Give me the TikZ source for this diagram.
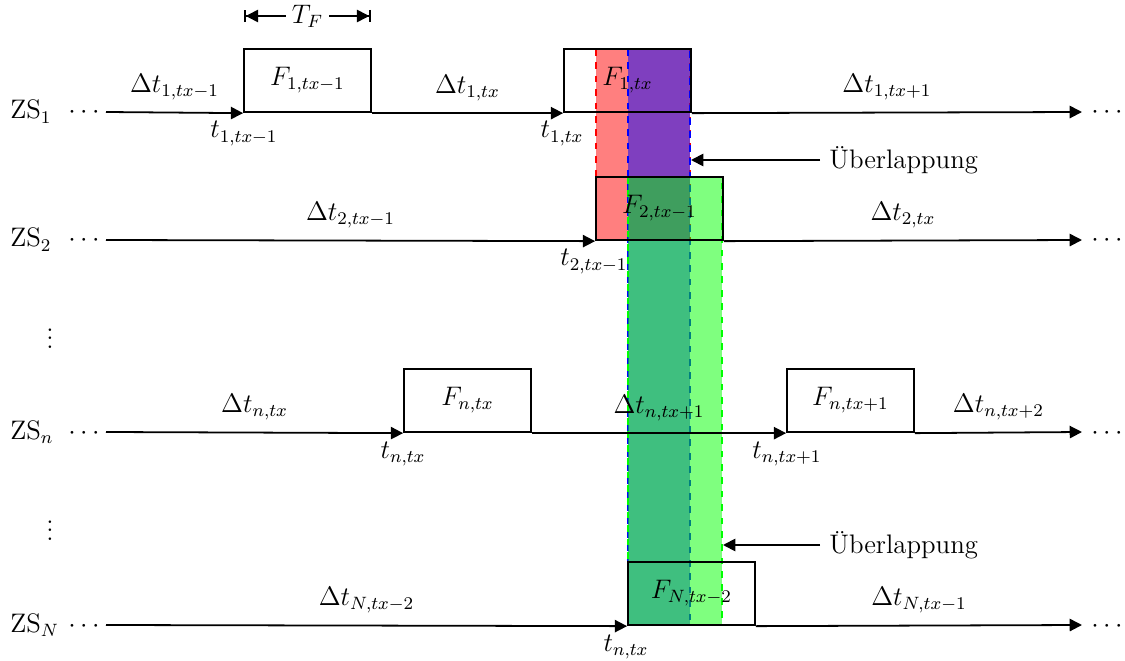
\documentclass[tikz,border=0pt,12pt]{standalone}
\usetikzlibrary{arrows.meta}
\begin{document}
\begin{tikzpicture}[x=0.015748cm, y=-0.015748cm,
  flow/.style={thick, -{Triangle[length=5.5pt,width=5.5pt]}},
  dimline/.style={thick, {Bar[width=5.5pt]Triangle[length=5.5pt,width=5.5pt]}-{Triangle[length=5.5pt,width=5.5pt]Bar[width=5.5pt]}},
  fbox/.style={draw, thick, minimum width=2cm, minimum height=1cm, inner sep=0pt},
  dlab/.style={midway, anchor=base, yshift=0.31cm},
  tlab/.style={anchor=base},
  rowlab/.style={anchor=base west},
  dots/.style={anchor=base},
  zone/.style={dashed, thick, fill opacity=0.5},
]
\useasboundingbox (0,0) rectangle (1125,661);

% overlap zones
\draw[zone, draw=red, fill=red] (596,49) rectangle (690,240);
\draw[zone, draw=blue, fill=blue] (628,49) rectangle (690,625);
\draw[zone, draw=green, fill=green] (628,177) rectangle (722,625);

% T_F dimension
\coordinate (tfa) at (244,16);
\coordinate (tfb) at (371,16);
\draw[dimline] (tfa) -- (tfb) node[midway, fill=white, inner xsep=2.5pt] (tf) {$T_F$};

% row labels
\node[rowlab] (zs1) at (1,119) {$\mathrm{ZS}_1$};
\node[rowlab] (zs2) at (1,247) {$\mathrm{ZS}_2$};
\node[rowlab] (zsn) at (1,439) {$\mathrm{ZS}_n$};
\node[rowlab] (zsN) at (1,632) {$\mathrm{ZS}_N$};
\node[dots] (l1) at (84,119) {$\cdots$};
\node[dots] (l2) at (84,247) {$\cdots$};
\node[dots] (ln) at (84,439) {$\cdots$};
\node[dots] (lN) at (84,632) {$\cdots$};
\node[dots] (r1) at (1107,119) {$\cdots$};
\node[dots] (r2) at (1107,247) {$\cdots$};
\node[dots] (rn) at (1107,439) {$\cdots$};
\node[dots] (rN) at (1107,632) {$\cdots$};
\node (vd1) at (50,332) {$\vdots$};
\node (vd2) at (50,524) {$\vdots$};

% start / end coordinates
\coordinate (s1) at (106,112); \coordinate (e1) at (1082,112);
\coordinate (s2) at (106,240); \coordinate (e2) at (1082,240);
\coordinate (sn) at (106,432); \coordinate (en) at (1082,432);
\coordinate (sN) at (106,625); \coordinate (eN) at (1082,625);

% frames
\node[fbox] (F1a) at (307.5,80.5) {$F_{1,tx-1}$};
\node[fbox] (F1b) at (627.5,80.5) {$F_{1,tx}$};
\node[fbox] (F2) at (659.5,208.5) {$F_{2,tx-1}$};
\node[fbox] (Fn1) at (467.5,400.5) {$F_{n,tx}$};
\node[fbox] (Fn2) at (850.5,400.5) {$F_{n,tx+1}$};
\node[fbox] (FN) at (691.5,593.5) {$F_{N,tx-2}$};

% row 1
\draw[flow] (s1) -- (F1a.south west) node[dlab] {$\Delta t_{1,tx-1}$};
\draw[flow] (F1a.south east) -- (F1b.south west) node[dlab] {$\Delta t_{1,tx}$};
\draw[flow] (F1b.south east) -- (e1) node[dlab] {$\Delta t_{1,tx+1}$};
\node[tlab] (t1a) at (244,138) {$t_{1,tx-1}$};
\node[tlab] (t1b) at (562,138) {$t_{1,tx}$};

% row 2
\draw[flow] (s2) -- (F2.south west) node[dlab] {$\Delta t_{2,tx-1}$};
\draw[flow] (F2.south east) -- (e2) node[dlab] {$\Delta t_{2,tx}$};
\node[tlab] (t2a) at (594,266) {$t_{2,tx-1}$};

% row n
\draw[flow] (sn) -- (Fn1.south west) node[dlab] {$\Delta t_{n,tx}$};
\draw[flow] (Fn1.south east) -- (Fn2.south west) node[dlab] {$\Delta t_{n,tx+1}$};
\draw[flow] (Fn2.south east) -- (en) node[dlab] {$\Delta t_{n,tx+2}$};
\node[tlab] (tna) at (403,458) {$t_{n,tx}$};
\node[tlab] (tnb) at (787,458) {$t_{n,tx+1}$};

% row N
\draw[flow] (sN) -- (FN.south west) node[dlab] {$\Delta t_{N,tx-2}$};
\draw[flow] (FN.south east) -- (eN) node[dlab] {$\Delta t_{N,tx-1}$};
\node[tlab] (tNa) at (626,651) {$t_{n,tx}$};

% overlap annotations
\node[anchor=west] (ov1) at (820,160) {Überlappung};
\coordinate (ov1tip) at (691,160);
\draw[flow] (ov1.west) -- (ov1tip);
\node[anchor=west] (ov2) at (820,545) {Überlappung};
\coordinate (ov2tip) at (723,545);
\draw[flow] (ov2.west) -- (ov2tip);
\end{tikzpicture}
\end{document}
